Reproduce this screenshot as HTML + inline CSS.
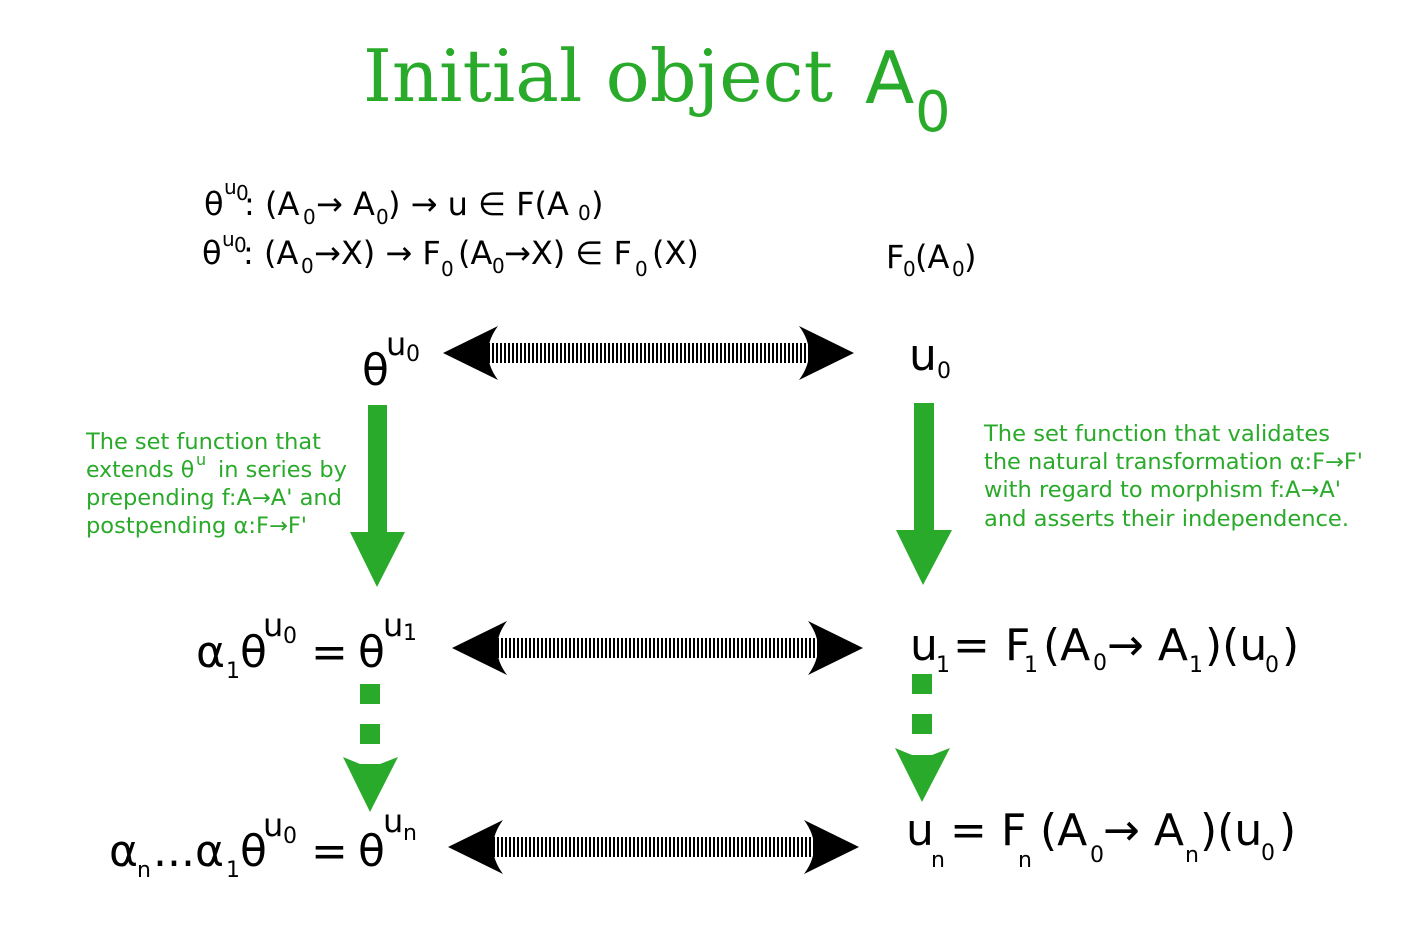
<!DOCTYPE html>
<html><head><meta charset="utf-8"><style>
html,body{margin:0;padding:0;background:#fff;}
svg{display:block;}
text{font-family:"DejaVu Sans","Liberation Sans",sans-serif;}
.g{fill:#2aaa2a;}
</style></head><body>
<svg width="1402" height="927" viewBox="0 0 1402 927" xmlns="http://www.w3.org/2000/svg">
<defs>
<pattern id="st" x="0" y="0" width="4" height="10" patternUnits="userSpaceOnUse">
<rect x="0" y="0" width="2" height="10" fill="#000"/><rect x="2" y="0" width="2" height="10" fill="#fff"/>
</pattern>
</defs>
<text x="363" y="101" font-size="72" class="g" style="font-family:'DejaVu Serif','Liberation Serif',serif" textLength="470" lengthAdjust="spacingAndGlyphs">Initial object</text>
<text x="865" y="103" font-size="72" class="g">A</text>
<text x="915" y="131" font-size="56" class="g">0</text>

<!-- formulas -->
<g font-size="32" fill="#000">
<text x="204" y="215">θ</text>
<text x="224" y="194" font-size="20">u</text>
<text x="236" y="200" font-size="20">0</text>
<text x="244" y="215">: (A</text>
<text x="303" y="224" font-size="20">0</text>
<text x="316" y="215">→ A</text>
<text x="376" y="224" font-size="20">0</text>
<text x="388" y="215">) → u ∈ F(A</text>
<text x="578" y="220" font-size="20">0</text>
<text x="591" y="215">)</text>

<text x="202" y="264">θ</text>
<text x="222" y="246" font-size="20">u</text>
<text x="234" y="252" font-size="20">0</text>
<text x="243" y="264">: (A</text>
<text x="301" y="273" font-size="20">0</text>
<text x="314" y="264">→X) → F</text>
<text x="441" y="276" font-size="20">0</text>
<text x="458" y="264">(A</text>
<text x="492" y="273" font-size="20">0</text>
<text x="504" y="264">→X) ∈ F</text>
<text x="635" y="276" font-size="20">0</text>
<text x="652" y="264">(X)</text>

<text x="886" y="268">F</text>
<text x="903" y="276" font-size="20">0</text>
<text x="915" y="268">(A</text>
<text x="952" y="276" font-size="20">0</text>
<text x="964" y="268">)</text>
</g>

<!-- row1 -->
<g fill="#000">
<text x="362" y="385" font-size="44">θ</text>
<text x="386" y="355" font-size="32">u</text>
<text x="406" y="361" font-size="22">0</text>
<text x="909" y="370" font-size="44">u</text>
<text x="937" y="378" font-size="22">0</text>
</g>

<!-- double arrows -->
<g id="da">
<rect x="485" y="343" width="328" height="20" fill="url(#st)"/>
<path d="M443,353 L498,326 Q478,353 498,380 Z" fill="#000"/>
<path d="M854,353 L799,326 Q819,353 799,380 Z" fill="#000"/>
</g>
<use href="#da" transform="translate(9,295)"/>
<use href="#da" transform="translate(5,494)"/>

<!-- solid green arrows -->
<path class="g" d="M368,405 H387 V532 H405 L377,587 L350,532 H368 Z"/>
<path class="g" d="M914,403 H934 V530 H952 L923,585 L896,530 H914 Z"/>

<!-- dashed green arrows -->
<rect class="g" x="360" y="684" width="20" height="20"/>
<rect class="g" x="360" y="724" width="20" height="20"/>
<path class="g" d="M343,757 L360,764 H380 L398,757 L370,812 Z"/>
<rect class="g" x="912" y="674" width="20" height="20"/>
<rect class="g" x="912" y="714" width="20" height="20"/>
<path class="g" d="M895,748 L912,755 H932 L950,748 L922,802 Z"/>

<!-- green descriptions -->
<g class="g" font-size="22">
<text x="86" y="449" textLength="235" lengthAdjust="spacingAndGlyphs">The set function that</text>
<text x="86" y="477">extends θ</text>
<text x="196" y="465" font-size="16">u</text>
<text x="218" y="477" textLength="129" lengthAdjust="spacingAndGlyphs">in series by</text>
<text x="86" y="505" textLength="256" lengthAdjust="spacingAndGlyphs">prepending f:A→A' and</text>
<text x="86" y="533" textLength="221" lengthAdjust="spacingAndGlyphs">postpending α:F→F'</text>
<text x="984" y="441" textLength="346" lengthAdjust="spacingAndGlyphs">The set function that validates</text>
<text x="984" y="469" textLength="379" lengthAdjust="spacingAndGlyphs">the natural transformation α:F→F'</text>
<text x="984" y="497" textLength="357" lengthAdjust="spacingAndGlyphs">with regard to morphism f:A→A'</text>
<text x="984" y="526" textLength="365" lengthAdjust="spacingAndGlyphs">and asserts their independence.</text>
</g>

<!-- row2 left -->
<g fill="#000" font-size="44">
<text x="196" y="667">α</text>
<text x="226" y="678" font-size="22">1</text>
<text x="240" y="667">θ</text>
<text x="263" y="636" font-size="32">u</text>
<text x="283" y="643" font-size="22">0</text>
<text x="311" y="667">=</text>
<text x="358" y="667">θ</text>
<text x="383" y="636" font-size="32">u</text>
<text x="403" y="640" font-size="22">1</text>
</g>
<!-- row2 right -->
<g fill="#000" font-size="44">
<text x="910" y="660">u</text>
<text x="936" y="672" font-size="22">1</text>
<text x="953" y="660">=</text>
<text x="1005" y="660">F</text>
<text x="1024" y="672" font-size="22">1</text>
<text x="1043" y="660">(A</text>
<text x="1093" y="670" font-size="22">0</text>
<text x="1107" y="660">→ A</text>
<text x="1189" y="672" font-size="22">1</text>
<text x="1205" y="660">)(u</text>
<text x="1265" y="672" font-size="22">0</text>
<text x="1282" y="660">)</text>
</g>
<!-- row3 left -->
<g fill="#000" font-size="44">
<text x="109" y="866">α</text>
<text x="137" y="877" font-size="22">n</text>
<text x="153" y="866">...α</text>
<text x="226" y="877" font-size="22">1</text>
<text x="240" y="866">θ</text>
<text x="263" y="836" font-size="32">u</text>
<text x="283" y="843" font-size="22">0</text>
<text x="311" y="866">=</text>
<text x="358" y="866">θ</text>
<text x="383" y="832" font-size="32">u</text>
<text x="403" y="840" font-size="22">n</text>
</g>
<!-- row3 right -->
<g fill="#000" font-size="44">
<text x="906" y="845">u</text>
<text x="931" y="867" font-size="22">n</text>
<text x="950" y="845">=</text>
<text x="1001" y="845">F</text>
<text x="1018" y="867" font-size="22">n</text>
<text x="1040" y="845">(A</text>
<text x="1090" y="862" font-size="22">0</text>
<text x="1103" y="845">→ A</text>
<text x="1185" y="862" font-size="22">n</text>
<text x="1200" y="845">)(u</text>
<text x="1261" y="860" font-size="22">0</text>
<text x="1279" y="845">)</text>
</g>
</svg>
</body></html>
